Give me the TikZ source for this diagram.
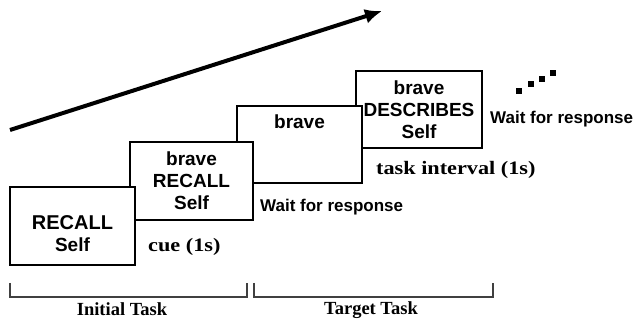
\documentclass[tikz,border=0pt]{standalone}
\usepackage{fontspec}
\setmainfont{Liberation Serif}
\setsansfont{Liberation Sans}
\usetikzlibrary{arrows.meta}

\tikzset{
  stepbox/.style={draw, fill=white, line width=1.3pt, inner sep=0pt},
  steptext/.style={align=center, inner sep=0pt, font=\sffamily\bfseries\fontsize{19}{22}\selectfont},
  waittext/.style={anchor=west, inner sep=0pt, font=\sffamily\bfseries\fontsize{17}{20}\selectfont},
  timetext/.style={anchor=west, inner sep=0pt, font=\bfseries\fontsize{19}{21}\selectfont},
  tasktext/.style={inner sep=0pt, font=\bfseries\fontsize{18.5}{20}\selectfont},
  bracket/.style={line width=1.6pt, draw=black!75},
  dot/.style={fill=black, minimum size=5.5pt, inner sep=0pt}
}

\begin{document}
\begin{tikzpicture}[x=1pt, y=-1pt]
    \useasboundingbox (0,0) rectangle (635,323);
    % time arrow
    \coordinate (arrowtail) at (10,130);
    \coordinate (arrowtip) at (382,11);
    \draw[line width=4pt, -{Latex[length=17pt, width=15pt]}] (arrowtail) -- (arrowtip);
    % boxes, the later ones behind the earlier ones
    \node[stepbox, minimum width=126pt, minimum height=77pt] (box4) at (419,109.5) {};
    \node[steptext] (words4) at (box4.center) {brave\\DESCRIBES\\Self};
    \node[stepbox, minimum width=125pt, minimum height=77pt] (box3) at (299.5,144.5) {};
    \node[steptext, below=9pt] (words3) at (box3.north) {brave};
    \node[stepbox, minimum width=123pt, minimum height=78pt] (box2) at (191.5,181) {};
    \node[steptext] (words2) at (box2.center) {brave\\RECALL\\Self};
    \node[stepbox, minimum width=125pt, minimum height=78pt] (box1) at (72.5,226) {};
    \node[steptext, yshift=-8pt] (words1) at (box1.center) {{\fontsize{20}{23}\selectfont RECALL}\\Self};
    % labels
    \node[timetext] (cue) at (148,247) {\scalebox{1.17}[1]{cue (1s)}};
    \node[waittext] (wait1) at (260,207) {Wait for response};
    \node[timetext] (interval) at (376,170) {\scalebox{1.17}[1]{task interval (1s)}};
    \node[waittext] (wait2) at (490,119) {Wait for response};
    % dots
    \node[dot] (dot1) at (519,91) {};
    \node[dot] (dot2) at (531,84) {};
    \node[dot] (dot3) at (542,79) {};
    \node[dot] (dot4) at (553,73) {};
    % brackets
    \draw[bracket] (10,283) -- (10,297) -- (247,297) -- (247,283);
    \draw[bracket] (254,283) -- (254,297) -- (493,297) -- (493,283);
    \node[tasktext] (initial) at (122,309) {Initial Task};
    \node[tasktext] (target) at (371,310) {Target Task};
\end{tikzpicture}
\end{document}
